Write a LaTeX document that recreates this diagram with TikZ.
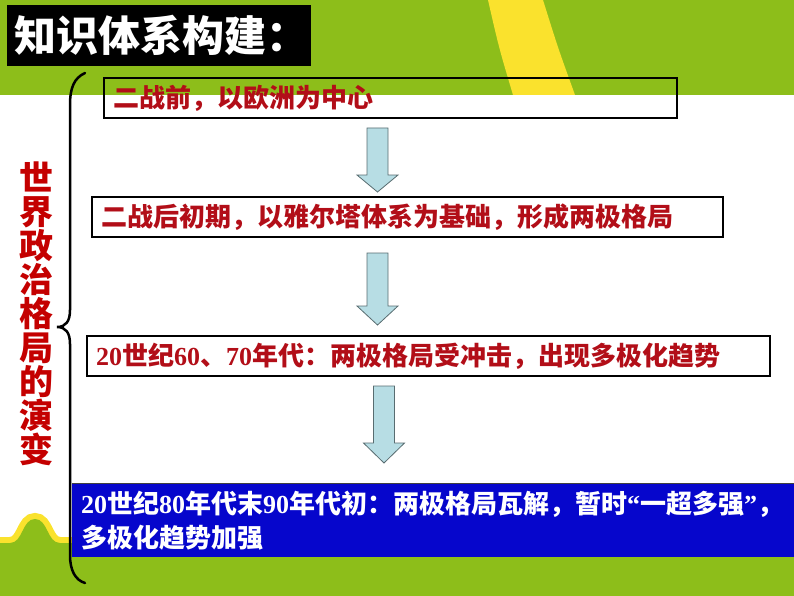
\documentclass[tikz,border=0pt]{standalone}
\usepackage{fontspec}
\setmainfont{Liberation Serif}
\newfontfamily\cjk{Noto Sans CJK SC}
\newfontfamily\numfont{Liberation Serif Bold}
\newcommand{\nm}[1]{{\numfont #1}}
\usepackage{tikz}
\usetikzlibrary{positioning,calc}
\definecolor{bandgreen}{RGB}{141,190,26}
\definecolor{bandyellow}{RGB}{250,226,45}
\definecolor{boxblue}{RGB}{6,6,204}
\definecolor{boxred}{RGB}{178,14,24}
\definecolor{sidered}{RGB}{196,0,0}
\definecolor{arrowblue}{RGB}{183,221,228}
\definecolor{arrowgray}{RGB}{88,108,112}

\begin{document}
\begin{tikzpicture}[x=1pt,y=-1pt,
  stagebox/.style={draw, line width=2pt, anchor=north west, minimum height=40,
    inner xsep=9, inner ysep=0, align=left, text=boxred,
    font=\cjk\bfseries\fontsize{26}{30}\selectfont},
  fatarrow/.style={fill=arrowblue, draw=arrowgray, line width=0.8pt}]
\useasboundingbox (0,0) rectangle (794,596);

% green band with yellow stripe on top
\fill[bandgreen] (0,0) rectangle (794,95);
\fill[bandyellow] (488,0) .. controls (499,48) .. (513,95) -- (575,95)
      .. controls (558,48) .. (543,0) -- cycle;

% title
\node[fill=black, anchor=north west, minimum width=304, minimum height=61,
      text width=290, inner xsep=7, align=left, text=white,
      font=\cjk\bfseries\fontsize{42}{46}\selectfont] (title) at (7,5) {知识体系构建：};

% hill and band at the bottom
\draw[bandyellow, line width=12pt] (0,543) -- (10,543) .. controls (23,543) and (22,519) .. (35,519)
      .. controls (48,519) and (47,543) .. (60,543) -- (74,543);
\fill[bandgreen] (0,543) -- (10,543) .. controls (23,543) and (22,519) .. (35,519)
      .. controls (48,519) and (47,543) .. (60,543) -- (74,543) -- (74,596) -- (0,596) -- cycle;
\fill[bandgreen] (0,557) rectangle (794,596);

% stages
\node[stagebox, minimum width=573, text width=555] (b1) at (103,77) {二战前，以欧洲为中心};
\node[stagebox, minimum width=631, text width=613] (b2) at (91,196) {二战后初期，以雅尔塔体系为基础，形成两极格局};
\node[stagebox, minimum width=683, text width=665] (b3) at (86,335)
      {\nm{20}世纪\nm{60}、\nm{70}年代：两极格局受冲击，出现多极化趋势};
\node[anchor=north west, fill=boxblue, minimum width=722, minimum height=74,
      text width=704, inner xsep=9, inner ysep=0, align=left, text=white,
      font=\cjk\bfseries\fontsize{26}{34}\selectfont] (b4) at (72,483)
      {\nm{20}世纪\nm{80}年代末\nm{90}年代初：两极格局瓦解，暂时\nm{“}一超多强\nm{”}，\\多极化趋势加强};
\draw[black!75, line width=1pt] (b4.north west) -- (b4.north east);

% block arrows between the stages
\foreach \from/\to/\cx/\topgap/\tipgap/\hl in
  {b1/b2/377.5/9/4/17, b2/b3/377.5/15/10/19, b3/b4/384/9/20/20}
\draw[fatarrow] let \p1=(\from.south), \p2=(\to.north) in
  (\cx-10.5,\y1-\topgap) -- (\cx+10.5,\y1-\topgap) -- (\cx+10.5,\y2+\tipgap+\hl)
  -- (\cx+20.5,\y2+\tipgap+\hl) -- (\cx,\y2+\tipgap) -- (\cx-20.5,\y2+\tipgap+\hl)
  -- (\cx-10.5,\y2+\tipgap+\hl) -- cycle;

% brace and side label
\draw[line width=2.5pt, line cap=round] (85,73) .. controls (74,78) and (70,88) .. (70,105)
  -- (70,310) .. controls (70,321) and (66,327) .. (57,327)
  .. controls (66,327) and (70,333) .. (70,344) -- (70,555)
  .. controls (70,570) and (75,580) .. (85,583);
\node[align=center, text=sidered, font=\cjk\bfseries\fontsize{34}{34}\selectfont] (side) at (36,314)
  {世\\界\\政\\治\\格\\局\\的\\演\\变};
\end{tikzpicture}
\end{document}
